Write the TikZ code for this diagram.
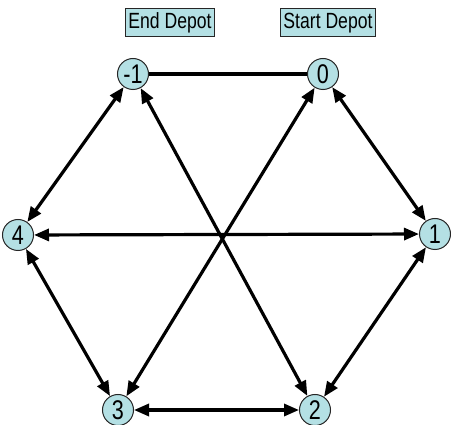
\documentclass[tikz,border=0pt]{standalone}
\usepackage{fontspec}
\setmainfont{Liberation Sans}
\newfontfamily\narrowsans[FakeStretch=0.8]{Liberation Sans}
\usetikzlibrary{arrows.meta}
\definecolor{nodefill}{RGB}{180,224,228}
\tikzset{
  depot/.style={circle, draw=black!85, line width=1pt, fill=nodefill, minimum size=31pt, inner sep=0pt, font=\narrowsans\fontsize{27}{27}\selectfont},
  tag/.style={draw=black!85, line width=1pt, fill=nodefill, inner xsep=3pt, inner ysep=0pt, minimum height=28pt, font=\narrowsans\fontsize{22}{22}\selectfont},
  link/.style={line width=3.2pt},
  twoway/.style={link, {Triangle[length=15pt,width=12pt]}-{Triangle[length=15pt,width=12pt]}}
}
\begin{document}
\begin{tikzpicture}[x=1pt,y=1pt]
  \useasboundingbox (0,0) rectangle (451,-425);
  \fill[white] (0,0) rectangle (451,-425);
  % depot labels
  \node[tag] (endlbl) at (170,-23) {End Depot};
  \node[tag] (startlbl) at (328,-23) {Start Depot};
  % hexagon of nodes
  \node[depot] (nm1) at (133,-74) {-1};
  \node[depot] (n0) at (323,-74) {0};
  \node[depot] (n1) at (435,-234) {1};
  \node[depot] (n2) at (315,-410) {2};
  \node[depot] (n3) at (118,-410) {3};
  \node[depot] (n4) at (18,-235) {4};
  % edges
  \draw[link] (nm1) -- (n0);
  \draw[twoway] (nm1) -- (n4);
  \draw[twoway] (n0) -- (n1);
  \draw[twoway] (n4) -- (n1);
  \draw[twoway] (n4) -- (n3);
  \draw[twoway] (n1) -- (n2);
  \draw[twoway] (n3) -- (n2);
  \draw[twoway] (n2) -- (nm1);
  \draw[twoway] (n3) -- (n0);
\end{tikzpicture}
\end{document}
